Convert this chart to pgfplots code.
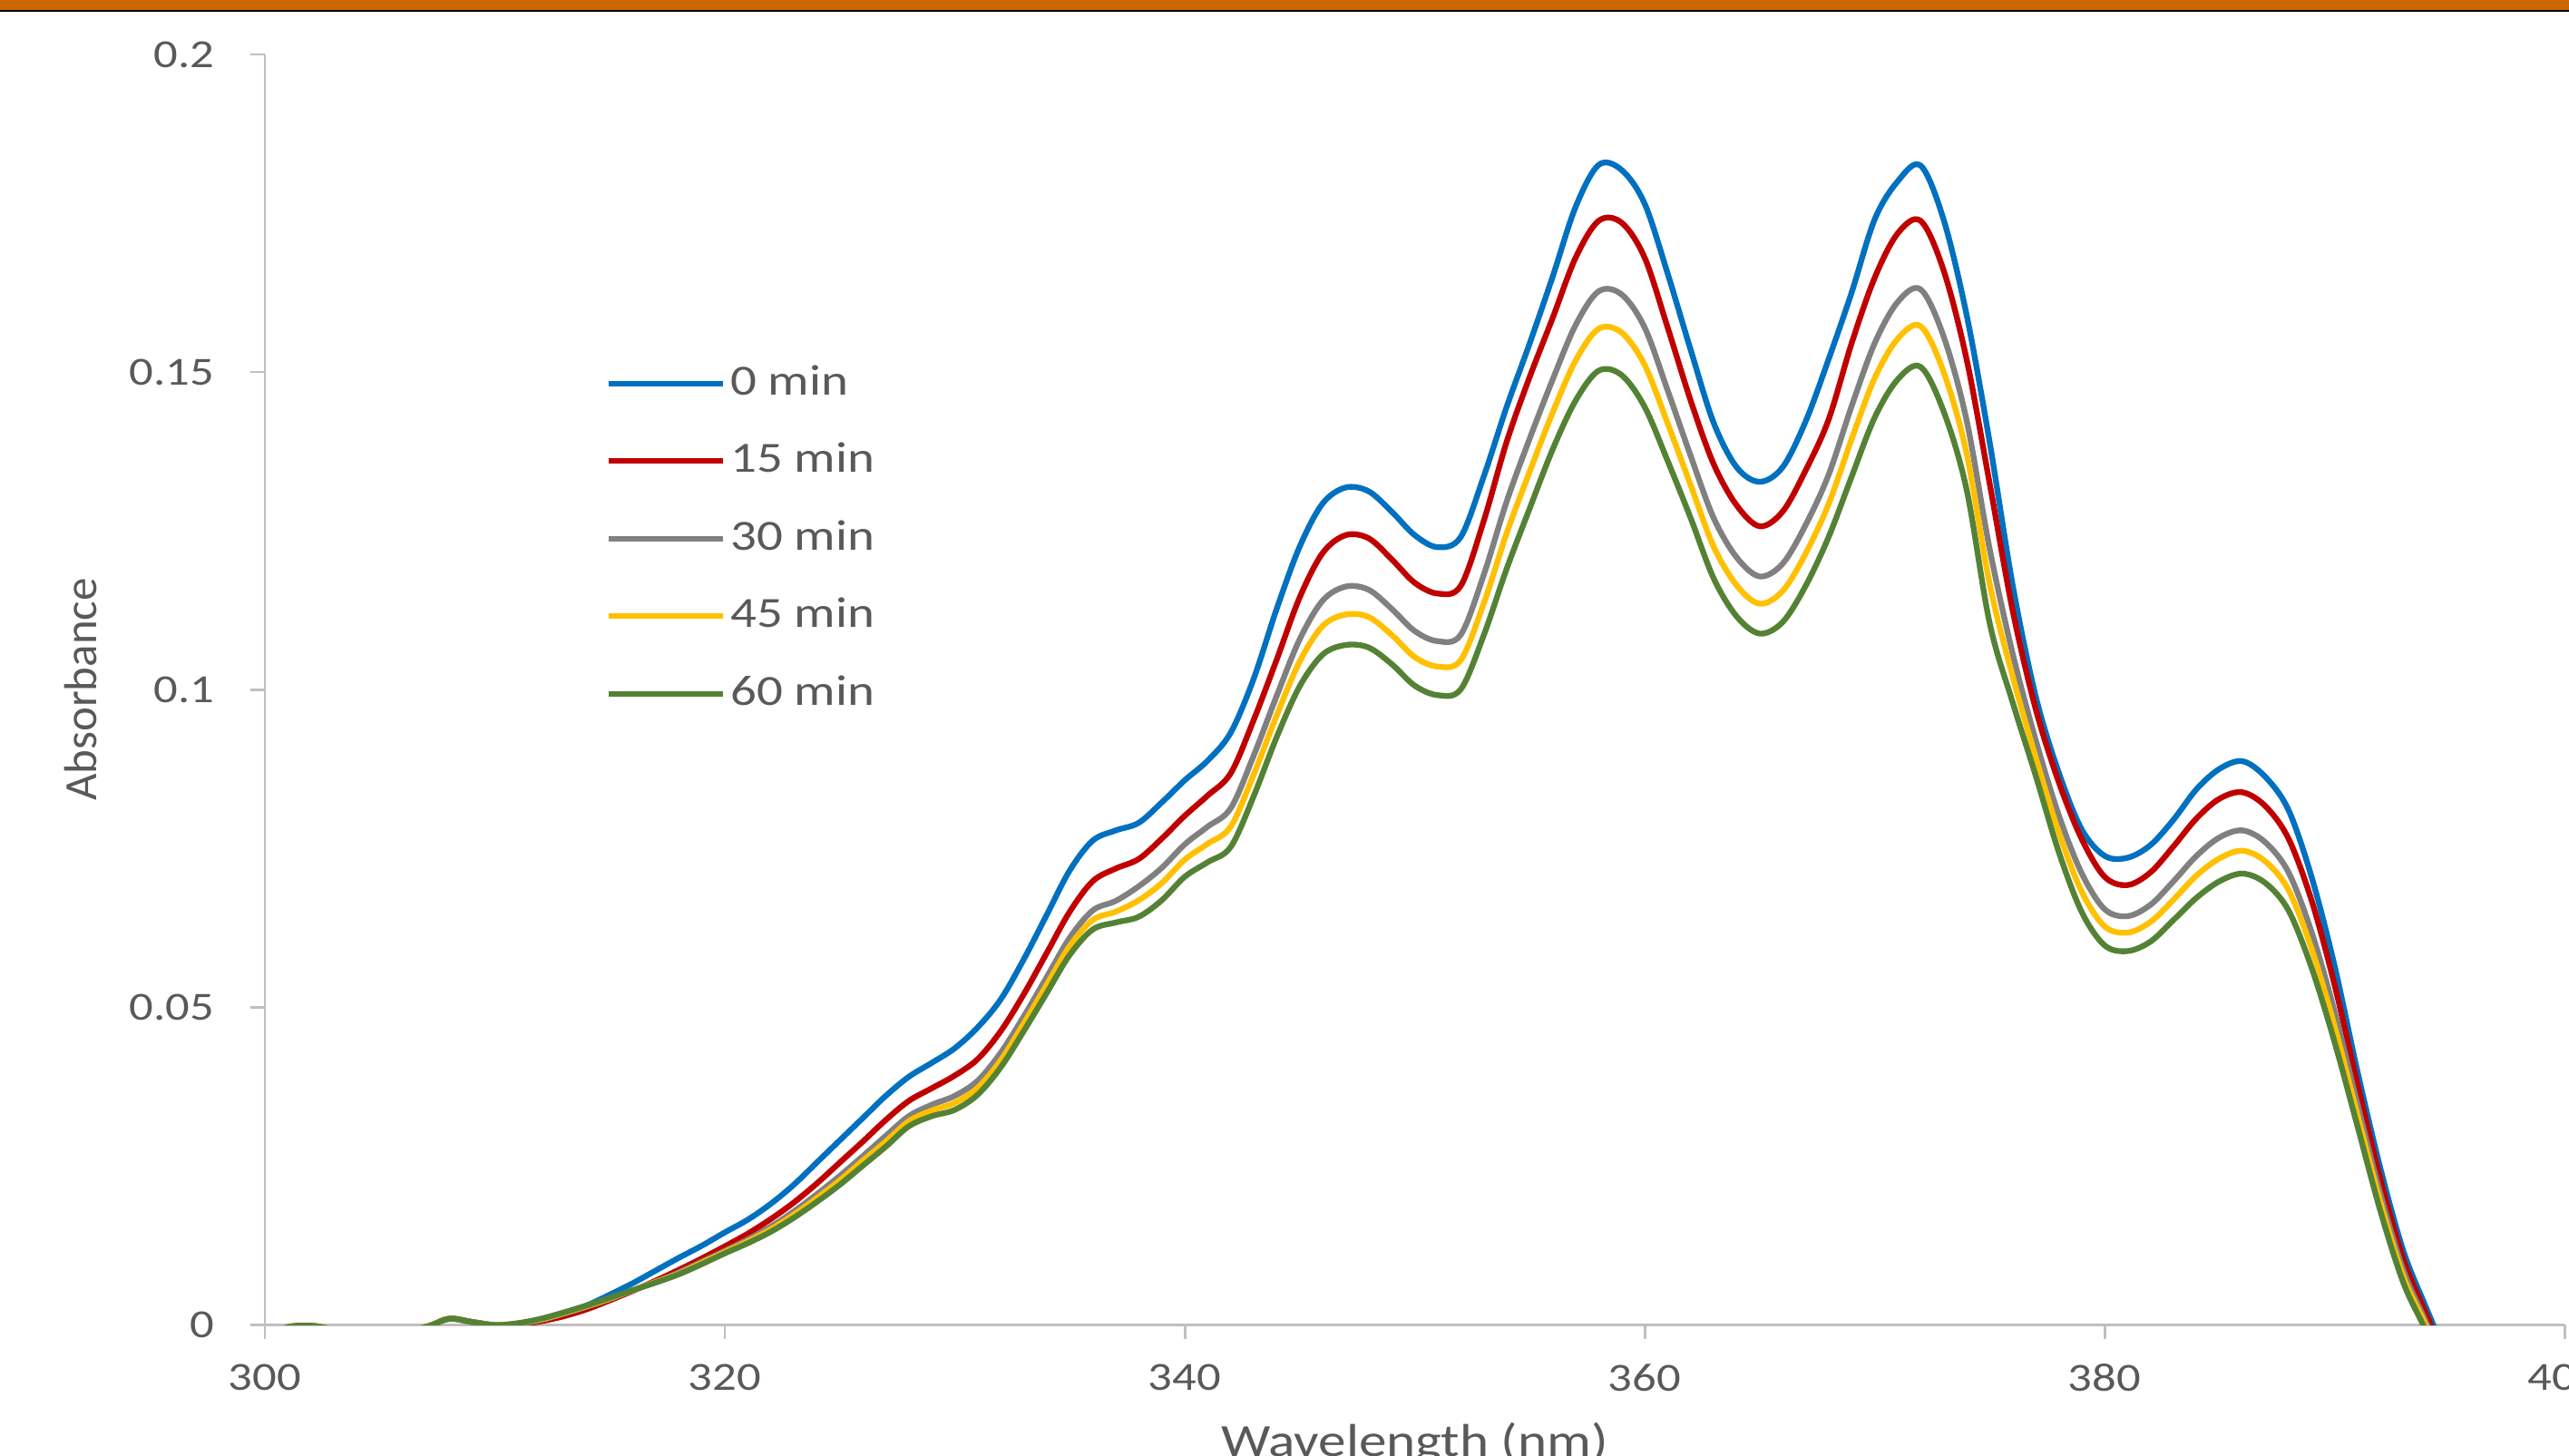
\documentclass[border=0pt]{standalone}
\usepackage{fontspec}
\setmainfont{Carlito}[FakeStretch=1.2]
\newfontfamily\labelfont{Carlito}
\usepackage{pgfplots}
\usepackage{pgfplotstable}
\pgfplotsset{compat=1.18}

\definecolor{c0}{HTML}{0070C0}
\definecolor{c15}{HTML}{C00000}
\definecolor{c30}{HTML}{808080}
\definecolor{c45}{HTML}{FFC000}
\definecolor{c60}{HTML}{548235}
\definecolor{axgray}{HTML}{BFBFBF}
\definecolor{txtgray}{HTML}{595959}
\definecolor{barorange}{HTML}{CC6600}

% absorbance vs wavelength, one column per irradiation time
\pgfplotstableread{
wl   m0      m15     m30     m45     m60
300 -0.002  -0.002  -0.002  -0.002  -0.002
301 -0.0005 -0.0005 -0.0005 -0.0004 -0.0004
302 -0.0002 -0.0002 -0.0002 -0.0002 -0.0002
303 -0.0008 -0.0008 -0.0008 -0.0008 -0.0008
305 -0.002  -0.002  -0.002  -0.002  -0.002
307 -0.0004 -0.0004 -0.0004 -0.0004 -0.0004
308  0.0009  0.0009  0.0009  0.0009  0.0009
309  0.0004  0.0004  0.0004  0.0004  0.0004
310 -0.0001 -0.0001 -0.0001 -0.0001 -0.0001
311  0.0001  0.0     0.0001  0.0002  0.0002
312  0.0008  0.0005  0.0007  0.0008  0.0009
313  0.0018  0.0013  0.0017  0.0018  0.0019
314  0.003   0.0024  0.0028  0.0029  0.003
315  0.0047  0.0038  0.0040  0.0041  0.0042
316  0.0065  0.0053  0.0054  0.0054  0.0054
317  0.0085  0.0069  0.0067  0.0067  0.0066
318  0.0105  0.0086  0.0082  0.0080  0.0079
319  0.0124  0.0104  0.0099  0.0097  0.0095
320  0.0145  0.0123  0.0116  0.0114  0.0112
321  0.0165  0.0143  0.0134  0.0131  0.0128
322  0.019   0.0166  0.0154  0.0150  0.0146
323  0.022   0.0192  0.0178  0.0173  0.0168
324  0.0255  0.0222  0.0205  0.0199  0.0193
325  0.029   0.0255  0.0234  0.0227  0.022
326  0.0325  0.0288  0.0265  0.0258  0.025
327  0.036   0.0322  0.0297  0.0288  0.028
328  0.039   0.0352  0.0328  0.0320  0.0312
329  0.0412  0.0372  0.0346  0.0337  0.0328
330  0.0435  0.0392  0.0360  0.0349  0.0338
331  0.0468  0.0418  0.0384  0.0373  0.0362
332  0.0512  0.0462  0.0428  0.0416  0.0405
333  0.0575  0.052   0.0485  0.0474  0.0462
334  0.0645  0.0585  0.0547  0.0535  0.0522
335  0.0715  0.065   0.0609  0.0596  0.0582
336  0.0762  0.0698  0.0652  0.0637  0.0622
337  0.0778  0.0718  0.0667  0.0650  0.0633
338  0.079   0.0733  0.0690  0.0668  0.0642
339  0.0822  0.0765  0.0719  0.0695  0.0668
340  0.0857  0.0801  0.0756  0.0732  0.0705
341  0.0888  0.0833  0.0784  0.0757  0.0728
342  0.0932  0.0868  0.0813  0.0784  0.0752
343  0.1017  0.0952  0.0896  0.0866  0.0832
344  0.1127  0.1047  0.0990  0.0959  0.0925
345  0.1225  0.1145  0.1079  0.1044  0.1005
346  0.1293  0.1215  0.1140  0.1100  0.1055
347  0.1318  0.1243  0.1162  0.1118  0.107
348  0.1312  0.1238  0.1157  0.1114  0.1066
349  0.128   0.1205  0.1127  0.1086  0.104
350  0.1243  0.1168  0.1092  0.1051  0.1006
351  0.1224  0.1151  0.1076  0.1036  0.0991
352  0.124   0.1163  0.1086  0.1046  0.1
353  0.1335  0.1265  0.1180  0.1135  0.1085
354  0.1445  0.139   0.1296  0.1246  0.119
355  0.1545  0.1492  0.1395  0.1343  0.1285
356  0.165   0.1585  0.1488  0.1436  0.1378
357  0.176   0.168   0.1574  0.1518  0.1455
358  0.1826  0.1738  0.1627  0.1568  0.1502
359  0.1818  0.1735  0.1622  0.1562  0.1495
360  0.1765  0.168   0.1570  0.1511  0.1445
361  0.1655  0.157   0.1471  0.1419  0.136
362  0.1535  0.1455  0.1368  0.1322  0.127
363  0.142   0.1355  0.1270  0.1225  0.1175
364  0.135   0.129   0.1208  0.1164  0.1115
365  0.1327  0.1257  0.1178  0.1135  0.1088
366  0.135   0.128   0.1198  0.1155  0.1106
367  0.1422  0.1345  0.1259  0.1214  0.1163
368  0.152   0.1425  0.1338  0.1292  0.124
369  0.1625  0.1545  0.1446  0.1394  0.1335
370  0.174   0.1648  0.1545  0.1490  0.1428
371  0.180   0.1718  0.1610  0.1552  0.1488
372  0.1825  0.1738  0.1630  0.1572  0.1508
373  0.174   0.166   0.1556  0.1500  0.1438
374  0.159   0.152   0.1424  0.1372  0.1315
375  0.139   0.1325  0.1222  0.1167  0.1105
376  0.1165  0.1125  0.1057  0.1021  0.098
377  0.099   0.097   0.0921  0.0894  0.0865
378  0.087   0.0855  0.0803  0.0776  0.0745
379  0.078   0.0765  0.0711  0.0682  0.065
380  0.0738  0.0705  0.0654  0.0627  0.0597
381  0.0735  0.0692  0.0643  0.0617  0.0588
382  0.0755  0.0712  0.0661  0.0634  0.0603
383  0.0795  0.0753  0.0698  0.0669  0.0637
384  0.0843  0.0797  0.0738  0.0707  0.0672
385  0.0875  0.0828  0.0767  0.0734  0.0698
386  0.0887  0.0838  0.0778  0.0746  0.071
387  0.0862  0.0816  0.0759  0.0729  0.0695
388  0.081   0.0765  0.0712  0.0684  0.0652
389  0.0705  0.0668  0.0618  0.0592  0.0562
390  0.0565  0.0535  0.0493  0.0470  0.0445
391  0.0398  0.0378  0.0347  0.0330  0.0312
392  0.0245  0.0228  0.0205  0.0192  0.0178
393  0.0115  0.0102  0.0085  0.0075  0.0065
394  0.0025  0.0015  0.0002 -0.0004 -0.0012
395 -0.006  -0.007  -0.0084 -0.0092 -0.01
}\spectra

\begin{document}
\begin{tikzpicture}
\begin{axis}[
    name=ax,
    scale only axis,
    width=25.35cm, height=14cm,
    xmin=300, xmax=400,
    ymin=0, ymax=0.2,
    xtick={300,320,...,400},
    ytick={0,0.05,0.1,0.15,0.2},
    scaled y ticks=false,
    axis x line*=bottom,
    axis y line*=left,
    axis line style={axgray, line width=0.85pt},
    tick style={axgray, line width=0.85pt},
    major tick length=1.6mm,
    tick align=outside,
    /pgf/number format/assume math mode=true,
    yticklabel style={/pgf/number format/fixed, /pgf/number format/precision=2},
    ticklabel style={font=\fontsize{12.5}{14}\selectfont, text=txtgray, inner sep=0pt},
    xticklabel style={anchor=north, yshift=-2.7mm},
    yticklabel style={anchor=east, xshift=-3.9mm},
    xlabel={Wavelength (nm)},
    ylabel={\labelfont Absorbance},
    label style={font=\fontsize{14.5}{16}\selectfont, text=txtgray},
    xlabel style={at={(axis description cs:0.5,0)}, anchor=base, yshift=-14.5mm},
    ylabel style={at={(axis description cs:0,0.5)}, anchor=base, yshift=18.5mm},
    every axis plot/.append style={line width=1.8pt, smooth, tension=0.55},
    legend style={at={(axis cs:314.8,0.1515)}, anchor=north west,
        draw=none, fill=none, inner sep=0pt, row sep=4.05mm,
        font=\fontsize{13.5}{16}\selectfont, text=txtgray,
        nodes={inner sep=0pt, text height=3.5mm, text depth=1mm}},
    legend cell align=left,
    legend image code/.code={\draw[#1] (0mm,0mm) -- (12.6mm,0mm);},
    /tikz/every odd column/.append style={column sep=0.5mm},
]
\addplot[c0]  table[x=wl, y=m0]  {\spectra};
\addplot[c15] table[x=wl, y=m15] {\spectra};
\addplot[c30] table[x=wl, y=m30] {\spectra};
\addplot[c45] table[x=wl, y=m45] {\spectra};
\addplot[c60] table[x=wl, y=m60] {\spectra};
\legend{0 min, 15 min, 30 min, 45 min, 60 min}
\end{axis}
% slide header strip
\fill[barorange] (ax.south west) ++(-2.92cm,14.49cm) rectangle ++(28.32cm,0.11cm);
\fill[black] (ax.south west) ++(-2.92cm,14.47cm) rectangle ++(28.32cm,0.02cm);
\pgfresetboundingbox
\path[use as bounding box] (ax.south west) ++(-2.92cm,-1.44cm) rectangle ++(28.32cm,16.04cm);
\end{tikzpicture}
\end{document}
